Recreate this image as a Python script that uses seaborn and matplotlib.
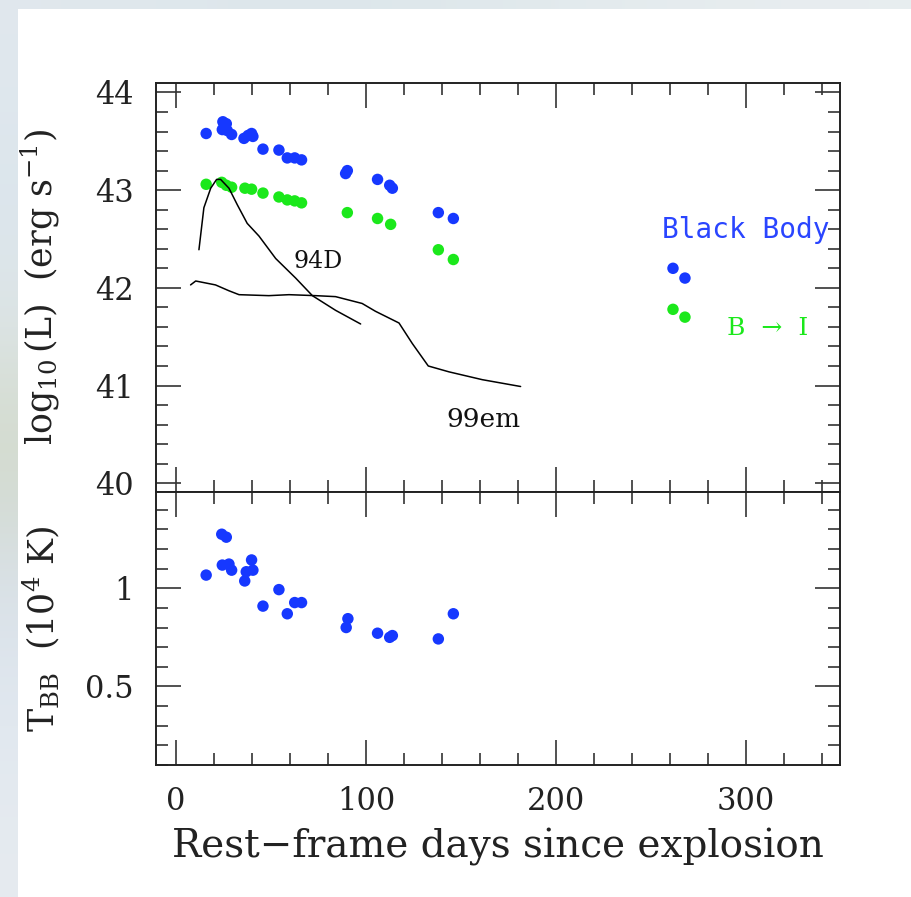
import numpy as np
import pandas as pd
import matplotlib
matplotlib.use("Agg")
import matplotlib.pyplot as plt
import seaborn as sns
from matplotlib.ticker import MultipleLocator, FixedLocator

# black body luminosity (blue), B->I integrated (green), and black body temperature
days_bb = [15.9, 24.7, 26.5, 24.4, 27.0, 29.3, 35.8, 38.0, 39.8, 40.5, 45.8, 54.2, 58.6, 62.5, 66.1,
           90.2, 89.3, 106.1, 112.5, 113.9, 138.1, 146.0, 261.6, 267.9]
logL_bb = [43.58, 43.70, 43.68, 43.62, 43.61, 43.57, 43.53, 43.56, 43.58, 43.55, 43.42, 43.41, 43.33, 43.33, 43.31,
           43.20, 43.17, 43.11, 43.05, 43.02, 42.77, 42.71, 42.20, 42.10]

days_bi = [15.9, 24.1, 26.5, 29.3, 36.3, 39.8, 45.8, 54.2, 58.6, 62.5, 66.1,
           90.2, 106.1, 113.0, 138.1, 146.0, 261.6, 267.9]
logL_bi = [43.06, 43.08, 43.05, 43.03, 43.02, 43.01, 42.97, 42.93, 42.90, 42.89, 42.87,
           42.77, 42.71, 42.65, 42.39, 42.29, 41.78, 41.70]

days_T = [15.9, 24.1, 26.5, 24.4, 27.9, 29.3, 36.2, 37.0, 39.8, 40.5, 45.8, 54.2, 58.6, 62.5, 66.1,
          90.5, 89.6, 106.1, 112.5, 113.9, 138.1, 146.0]
T_bb = [1.067, 1.275, 1.26, 1.118, 1.123, 1.092, 1.037, 1.084, 1.144, 1.092, 0.909, 0.993, 0.87, 0.927, 0.927,
        0.845, 0.80, 0.771, 0.75, 0.759, 0.742, 0.87]

# comparison light curves
days_94D = [12.1, 14.7, 18.3, 21.4, 23.5, 27.9, 32.3, 37.5, 43.7, 52.5, 63.0, 71.8, 84.0, 97.2]
logL_94D = [42.39, 42.82, 43.02, 43.11, 43.11, 43.02, 42.85, 42.66, 42.53, 42.30, 42.10, 41.92, 41.77, 41.63]

days_99em = [7.7, 10.4, 20.8, 27.9, 33.2, 48.9, 59.5, 73.5, 84.0, 98.0, 105.0, 117.4, 124.4, 132.8,
             143.7, 161.2, 181.4]
logL_99em = [42.03, 42.07, 42.03, 41.97, 41.93, 41.92, 41.93, 41.92, 41.91, 41.84, 41.76, 41.64, 41.43, 41.20,
             41.14, 41.06, 40.99]

blue = "#1638ff"
green = "#1be81b"

sns.set_theme(style="ticks")
plt.rcParams["font.family"] = ["DejaVu Serif", "DejaVu Sans"]
plt.rcParams["mathtext.fontset"] = "dejavuserif"

fig = plt.figure(figsize=(9.12, 8.97), dpi=100)
fig.patch.set_facecolor("white")

# blurred backdrop strips at the left and top edge
bg = fig.add_axes([0, 0, 18 / 912, 1], zorder=-5)
strip = np.array([[0.88, 0.91, 0.93], [0.86, 0.90, 0.93], [0.87, 0.90, 0.91], [0.82, 0.85, 0.78],
                  [0.85, 0.88, 0.91], [0.88, 0.91, 0.94], [0.90, 0.92, 0.94]])
bg.imshow(strip[:, None, :], aspect="auto", interpolation="bicubic")
bg.set_axis_off()
bg2 = fig.add_axes([0, 1 - 9 / 897, 1, 9 / 897], zorder=-5)
bg2.imshow(np.array([[[0.88, 0.91, 0.93], [0.86, 0.90, 0.92], [0.89, 0.92, 0.93], [0.91, 0.93, 0.94]]]),
           aspect="auto", interpolation="bicubic")
bg2.set_axis_off()

left, width = 156 / 912, 684 / 912
ax1 = fig.add_axes([left, 1 - 492 / 897, width, 409.3 / 897])
ax2 = fig.add_axes([left, 1 - 765 / 897, width, 273 / 897], sharex=ax1)

df_bb = pd.DataFrame({"days": days_bb, "logL": logL_bb})
df_bi = pd.DataFrame({"days": days_bi, "logL": logL_bi})
df_T = pd.DataFrame({"days": days_T, "T": T_bb})

sns.lineplot(x=days_94D, y=logL_94D, ax=ax1, color="black", lw=1.1, sort=False, estimator=None)
sns.lineplot(x=days_99em, y=logL_99em, ax=ax1, color="black", lw=1.1, sort=False, estimator=None)
sns.scatterplot(data=df_bb, x="days", y="logL", ax=ax1, color=blue, s=68, edgecolor="none")
sns.scatterplot(data=df_bi, x="days", y="logL", ax=ax1, color=green, s=68, edgecolor="none")
sns.scatterplot(data=df_T, x="days", y="T", ax=ax2, color=blue, s=68, edgecolor="none")

ax1.text(74.7, 42.27, "94D", fontsize=17, ha="center", va="center", color="#111111")
ax1.text(161.6, 40.65, "99em", fontsize=19, ha="center", va="center", color="#111111")
ax1.text(300, 42.59, "Black Body", fontsize=20, ha="center", va="center", color="#2a45ff",
         family="DejaVu Sans Mono")
ax1.text(311.6, 41.58, "B  \u2192  I", fontsize=18, ha="center", va="center", color=green)

ax1.set_xlim(-10.5, 349.5)
ax1.set_ylim(39.91, 44.1)
ax2.set_ylim(0.1, 1.49)

ax1.xaxis.set_major_locator(MultipleLocator(100))
ax1.xaxis.set_minor_locator(MultipleLocator(20))
ax1.yaxis.set_major_locator(MultipleLocator(1))
ax1.yaxis.set_minor_locator(MultipleLocator(0.2))
ax2.yaxis.set_major_locator(FixedLocator([0.5, 1.0]))
ax2.yaxis.set_minor_locator(MultipleLocator(0.1))
ax2.set_yticklabels(["0.5", "1"])

for ax in (ax1, ax2):
    ax.tick_params(which="both", direction="in", top=True, right=True, colors="#333333", width=1.2,
                   labelcolor="#222222", labelsize=22)
    ax.tick_params(which="major", length=18, pad=16)
    ax.tick_params(which="minor", length=8.5)
    for sp in ax.spines.values():
        sp.set_color("#222222")
        sp.set_linewidth(1.4)
    ax.set_xlabel("")
    ax.set_ylabel("")

ax1.tick_params(labelbottom=False)
ax2.tick_params(axis="x", pad=15)

ax1.set_ylabel(r"$\log_{10}$(L)  (erg s$^{-1}$)", fontsize=25, color="#222222")
ax2.set_ylabel(r"T$_{\rm BB}$  (10$^4$ K)", fontsize=25, color="#222222")
ax1.yaxis.set_label_coords(-0.137, 0.5)
ax2.yaxis.set_label_coords(-0.137, 0.5)
ax2.set_xlabel("Rest\u2212frame days since explosion", fontsize=28, color="#222222", labelpad=8)

fig.savefig("out.png", dpi=100)
